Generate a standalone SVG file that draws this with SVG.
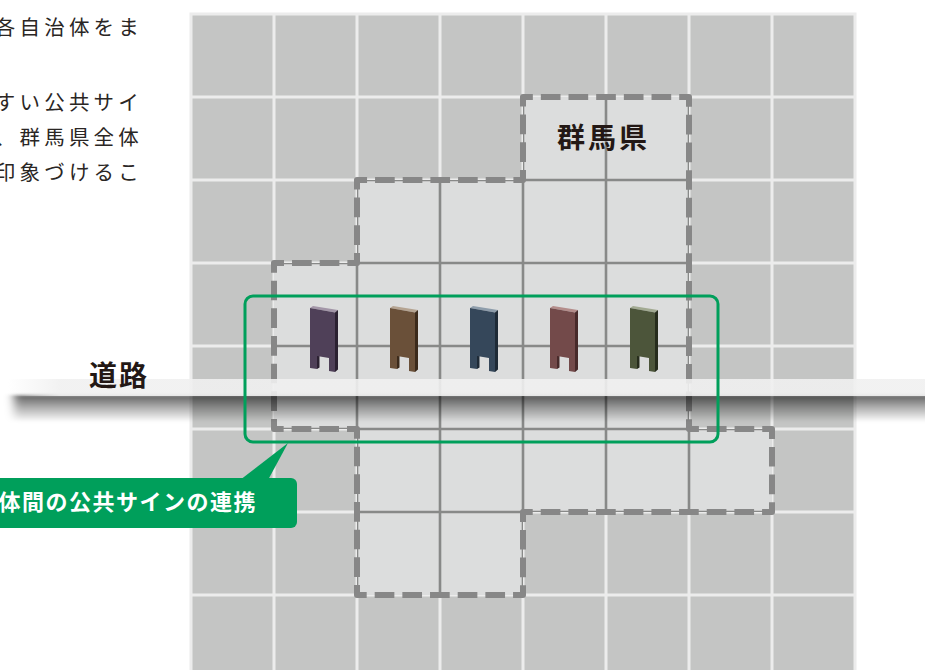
<svg xmlns="http://www.w3.org/2000/svg" xmlns:xlink="http://www.w3.org/1999/xlink" width="925" height="670" viewBox="0 0 925 670">
  <style>
    .body { font-family: "Noto Sans CJK JP", "Noto Sans", sans-serif; font-size: 20.5px; letter-spacing: 4.2px; fill: #2a2624; }
    .title { font-family: "Noto Sans CJK JP", "Noto Sans", sans-serif; font-size: 28px; font-weight: 700; fill: #231815; }
    .callout-text { font-family: "Noto Sans CJK JP", "Noto Sans", sans-serif; font-size: 22px; font-weight: 700; letter-spacing: 1.5px; fill: #ffffff; }
    .cell { fill: #c4c5c4; }
    .inner-line { stroke: #888988; stroke-width: 2.6; fill: none; }
    .outline { fill: none; stroke: #878787; stroke-width: 6; stroke-dasharray: 19.67 8; stroke-dashoffset: 9.83; stroke-linejoin: round; }
    .group-frame { fill: none; stroke: #009f5b; stroke-width: 3; }
  </style>
  <defs>
    <!-- one 80x80 tile of the base grid -->
    <rect id="tile" width="80" height="80" class="cell"/>
    <!-- the area of the prefecture, traced along grid lines -->
    <path id="pref-area" d="M523,97 L689,97 L689,429 L772,429 L772,512 L523,512 L523,595 L357,595 L357,429 L274,429 L274,263 L357,263 L357,180 L523,180 Z"/>
    <clipPath id="pref-clip"><use xlink:href="#pref-area"/></clipPath>
    <!-- signboard faces, coloured per instance -->
    <path id="sign-top" d="M0,2 L3,0 L28,4 L25,6.5 Z"/>
    <path id="sign-side" d="M25,6.5 L28,4 L28,63.5 L25,66 Z M7,50 L9.5,48.5 L9.5,61.5 L7,63 Z"/>
    <path id="sign-front" d="M0,2 L25,6.5 L25,66 L19,65 L19,52 L7,50 L7,63 L0,62 Z"/>
    <linearGradient id="shadow-grad" x1="0" y1="0" x2="0" y2="1">
      <stop offset="0" stop-color="#000" stop-opacity="0.62"/>
      <stop offset="0.45" stop-color="#000" stop-opacity="0.32"/>
      <stop offset="1" stop-color="#000" stop-opacity="0"/>
    </linearGradient>
    <linearGradient id="road-grad" gradientUnits="userSpaceOnUse" x1="8" y1="0" x2="60" y2="0">
      <stop offset="0" stop-color="#f0f0f0" stop-opacity="0"/>
      <stop offset="1" stop-color="#f0f0f0" stop-opacity="0.9"/>
    </linearGradient>
    <filter id="soft" x="-5%" y="-100%" width="110%" height="300%">
      <feGaussianBlur stdDeviation="5 1.5"/>
    </filter>
  </defs>

  <!-- explanatory text -->
  <g id="description" class="body">
    <text x="-5.2" y="35">各自治体をま</text>
    <text x="-5.2" y="110">すい公共サイ</text>
    <text x="-5.2" y="145">、群馬県全体</text>
    <text x="-5.2" y="180">印象づけるこ</text>
  </g>

  <!-- base grid -->
  <g id="grid">
    <rect x="189.5" y="12.5" width="667" height="670" fill="#ececec"/>
    <g id="grid-cells">
      <use xlink:href="#tile" x="192.5" y="15.5"/><use xlink:href="#tile" x="275.5" y="15.5"/><use xlink:href="#tile" x="358.5" y="15.5"/><use xlink:href="#tile" x="441.5" y="15.5"/><use xlink:href="#tile" x="524.5" y="15.5"/><use xlink:href="#tile" x="607.5" y="15.5"/><use xlink:href="#tile" x="690.5" y="15.5"/><use xlink:href="#tile" x="773.5" y="15.5"/>
      <use xlink:href="#tile" x="192.5" y="98.5"/><use xlink:href="#tile" x="275.5" y="98.5"/><use xlink:href="#tile" x="358.5" y="98.5"/><use xlink:href="#tile" x="441.5" y="98.5"/><use xlink:href="#tile" x="524.5" y="98.5"/><use xlink:href="#tile" x="607.5" y="98.5"/><use xlink:href="#tile" x="690.5" y="98.5"/><use xlink:href="#tile" x="773.5" y="98.5"/>
      <use xlink:href="#tile" x="192.5" y="181.5"/><use xlink:href="#tile" x="275.5" y="181.5"/><use xlink:href="#tile" x="358.5" y="181.5"/><use xlink:href="#tile" x="441.5" y="181.5"/><use xlink:href="#tile" x="524.5" y="181.5"/><use xlink:href="#tile" x="607.5" y="181.5"/><use xlink:href="#tile" x="690.5" y="181.5"/><use xlink:href="#tile" x="773.5" y="181.5"/>
      <use xlink:href="#tile" x="192.5" y="264.5"/><use xlink:href="#tile" x="275.5" y="264.5"/><use xlink:href="#tile" x="358.5" y="264.5"/><use xlink:href="#tile" x="441.5" y="264.5"/><use xlink:href="#tile" x="524.5" y="264.5"/><use xlink:href="#tile" x="607.5" y="264.5"/><use xlink:href="#tile" x="690.5" y="264.5"/><use xlink:href="#tile" x="773.5" y="264.5"/>
      <use xlink:href="#tile" x="192.5" y="347.5"/><use xlink:href="#tile" x="275.5" y="347.5"/><use xlink:href="#tile" x="358.5" y="347.5"/><use xlink:href="#tile" x="441.5" y="347.5"/><use xlink:href="#tile" x="524.5" y="347.5"/><use xlink:href="#tile" x="607.5" y="347.5"/><use xlink:href="#tile" x="690.5" y="347.5"/><use xlink:href="#tile" x="773.5" y="347.5"/>
      <use xlink:href="#tile" x="192.5" y="430.5"/><use xlink:href="#tile" x="275.5" y="430.5"/><use xlink:href="#tile" x="358.5" y="430.5"/><use xlink:href="#tile" x="441.5" y="430.5"/><use xlink:href="#tile" x="524.5" y="430.5"/><use xlink:href="#tile" x="607.5" y="430.5"/><use xlink:href="#tile" x="690.5" y="430.5"/><use xlink:href="#tile" x="773.5" y="430.5"/>
      <use xlink:href="#tile" x="192.5" y="513.5"/><use xlink:href="#tile" x="275.5" y="513.5"/><use xlink:href="#tile" x="358.5" y="513.5"/><use xlink:href="#tile" x="441.5" y="513.5"/><use xlink:href="#tile" x="524.5" y="513.5"/><use xlink:href="#tile" x="607.5" y="513.5"/><use xlink:href="#tile" x="690.5" y="513.5"/><use xlink:href="#tile" x="773.5" y="513.5"/>
      <use xlink:href="#tile" x="192.5" y="596.5"/><use xlink:href="#tile" x="275.5" y="596.5"/><use xlink:href="#tile" x="358.5" y="596.5"/><use xlink:href="#tile" x="441.5" y="596.5"/><use xlink:href="#tile" x="524.5" y="596.5"/><use xlink:href="#tile" x="607.5" y="596.5"/><use xlink:href="#tile" x="690.5" y="596.5"/><use xlink:href="#tile" x="773.5" y="596.5"/>
    </g>
  </g>

  <!-- Gunma prefecture area -->
  <g id="gunma">
    <use xlink:href="#pref-area" fill="#dcdddd"/>
    <g clip-path="url(#pref-clip)" class="inner-line">
      <path d="M357,90 V600 M440,90 V600 M523,90 V600 M606,90 V600 M689,90 V600 M200,180 H780 M200,263 H780 M200,346 H780 M200,429 H780 M200,512 H780"/>
    </g>
    <use xlink:href="#pref-area" class="outline"/>
    <text class="title" x="557" y="148" letter-spacing="3">群馬県</text>
  </g>

  <!-- signboards of each municipality -->
  <g id="signs">
    <g id="sign-1" transform="translate(310,306)">
      <use xlink:href="#sign-top" fill="#a396a8"/><use xlink:href="#sign-side" fill="#2b2131"/><use xlink:href="#sign-front" fill="#4f4058"/>
    </g>
    <g id="sign-2" transform="translate(390,306)">
      <use xlink:href="#sign-top" fill="#b5a492"/><use xlink:href="#sign-side" fill="#3b2a1b"/><use xlink:href="#sign-front" fill="#6a5039"/>
    </g>
    <g id="sign-3" transform="translate(470,306)">
      <use xlink:href="#sign-top" fill="#8e9dab"/><use xlink:href="#sign-side" fill="#1e2a36"/><use xlink:href="#sign-front" fill="#35475a"/>
    </g>
    <g id="sign-4" transform="translate(550,306)">
      <use xlink:href="#sign-top" fill="#b48d8b"/><use xlink:href="#sign-side" fill="#472a2a"/><use xlink:href="#sign-front" fill="#734a4a"/>
    </g>
    <g id="sign-5" transform="translate(630,306)">
      <use xlink:href="#sign-top" fill="#a2aa92"/><use xlink:href="#sign-side" fill="#262c1c"/><use xlink:href="#sign-front" fill="#4c553a"/>
    </g>
  </g>

  <!-- road -->
  <g id="road">
    <rect x="14" y="395" width="930" height="27" fill="url(#shadow-grad)" filter="url(#soft)"/>
    <rect x="8" y="379" width="940" height="17" fill="url(#road-grad)"/>
    <text class="title" x="89" y="386" letter-spacing="2">道路</text>
  </g>

  <!-- connectors: grouping frame and callout pointer -->
  <g id="connectors">
    <rect class="group-frame" x="245" y="296" width="473" height="146" rx="8"/>
    <path d="M240,480 L288,443 L268,480 Z" fill="#009f5b"/>
  </g>

  <!-- callout label -->
  <g id="callout">
    <rect x="-10" y="478" width="307" height="50" rx="6" fill="#009f5b"/>
    <text class="callout-text" x="-1.5" y="510">体間の公共サインの連携</text>
  </g>
</svg>
